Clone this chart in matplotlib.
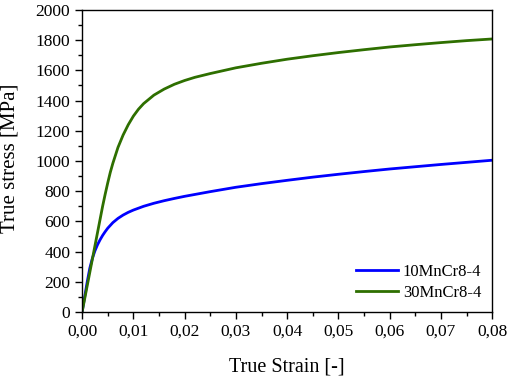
import matplotlib
matplotlib.use("Agg")
import matplotlib.pyplot as plt
from matplotlib.ticker import MultipleLocator, FuncFormatter

# Data
strain_10 = [0.0, 0.0005, 0.001, 0.0015, 0.002, 0.0025, 0.003, 0.0035, 0.004, 0.0045, 0.005,
             0.006, 0.007, 0.008, 0.009, 0.010, 0.012, 0.014, 0.016, 0.018, 0.020, 0.025,
             0.030, 0.035, 0.040, 0.045, 0.050, 0.055, 0.060, 0.065, 0.070, 0.075, 0.080]
stress_10 = [0, 100, 200, 290, 355, 405, 445, 478, 507, 532, 555,
             592, 620, 642, 660, 675, 700, 720, 737, 752, 766, 797,
             826, 850, 872, 893, 912, 930, 947, 962, 977, 991, 1005]

strain_30 = [0.0, 0.001, 0.002, 0.003, 0.004, 0.0045, 0.005, 0.0055, 0.006, 0.007, 0.008, 0.009, 0.010,
             0.011, 0.012, 0.014, 0.016, 0.018, 0.020, 0.022, 0.025, 0.030, 0.035,
             0.040, 0.045, 0.050, 0.055, 0.060, 0.065, 0.070, 0.075, 0.080]
stress_30 = [0, 175, 350, 525, 700, 780, 855, 925, 985, 1090, 1172, 1240, 1297,
             1343, 1380, 1436, 1476, 1508, 1533, 1554, 1579, 1617, 1647,
             1674, 1697, 1718, 1737, 1755, 1770, 1784, 1797, 1808]

labels = ["10MnCr8-4", "30MnCr8-4"]
colors = ["#0000ff", "#2e6f00"]

plt.rcParams['font.family'] = ['Liberation Serif', 'DejaVu Serif']

fig = plt.figure(figsize=(5.1, 3.78), dpi=100)
ax = fig.add_axes([0.161, 0.1746, 0.804, 0.799])

ax.plot(strain_10, stress_10, color=colors[0], lw=2, label=labels[0])
ax.plot(strain_30, stress_30, color=colors[1], lw=2, label=labels[1])

ax.set_xlim(0, 0.08)
ax.set_ylim(0, 2000)
ax.xaxis.set_major_locator(MultipleLocator(0.01))
ax.xaxis.set_minor_locator(MultipleLocator(0.005))
ax.yaxis.set_major_locator(MultipleLocator(200))
ax.yaxis.set_minor_locator(MultipleLocator(100))
ax.xaxis.set_major_formatter(FuncFormatter(lambda v, p: f"{v:.2f}".replace(".", ",")))
ax.tick_params(which='major', direction='out', length=5, width=1, labelsize=12.5)
ax.tick_params(which='minor', direction='out', length=3, width=1)
for s in ax.spines.values():
    s.set_linewidth(1)

ax.set_xlabel("True Strain [-]", fontsize=14.5, labelpad=13)
ax.set_ylabel("True stress [MPa]", fontsize=15)
ax.yaxis.set_label_coords(-0.152, 0.51)

leg = ax.legend(loc='lower right', frameon=False, fontsize=12, handlelength=2.5,
                handletextpad=0.3, labelspacing=0.3, borderaxespad=0.25)

fig.savefig("out.png", dpi=100)
